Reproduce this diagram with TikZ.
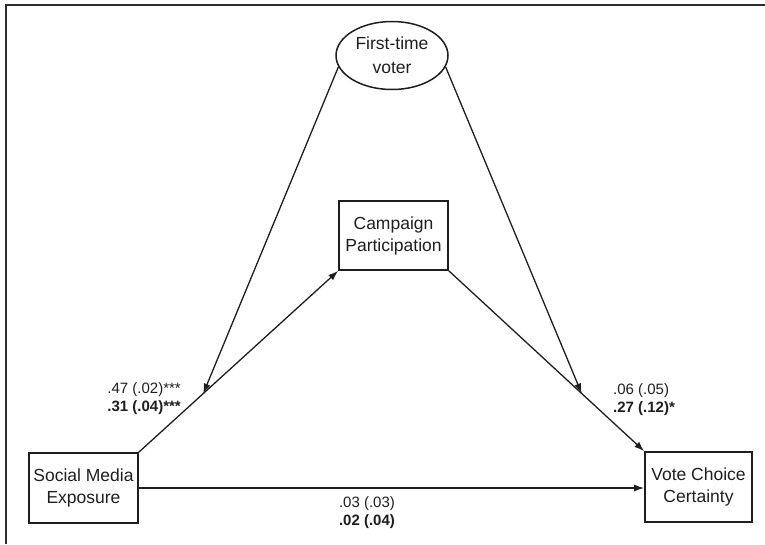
\documentclass[tikz,border=0pt]{standalone}
\usepackage{fontspec}
\setmainfont{Liberation Sans}
\usetikzlibrary{arrows.meta,calc,shapes.geometric}
\definecolor{ink}{RGB}{30,30,30}
\definecolor{framec}{RGB}{45,45,45}
\tikzset{
  boxnode/.style={draw=ink, line width=1.7pt, rectangle, minimum width=#1, minimum height=69pt,
    inner sep=0pt, align=center, font=\fontsize{17.5}{22}\selectfont, text=ink},
  ovalnode/.style={draw=ink, line width=1.5pt, ellipse, minimum width=112pt, minimum height=68pt,
    inner sep=0pt, align=center, font=\fontsize{17.5}{24}\selectfont, text=ink},
  conn/.style={draw=ink, line width=1.3pt},
  arr/.style={conn, -{Latex[length=10pt,width=7pt]}},
  lbl/.style={font=\fontsize{15}{18}\selectfont, text=ink, inner sep=0pt}
}
\begin{document}
\begin{tikzpicture}[x=1pt,y=1pt]
\useasboundingbox (0,0) rectangle (765,-544);
\draw[framec, line width=2.4pt] (6,-544) -- (6,-5) -- (765,-5);

\node[ovalnode] (FT) at (392,-55.5) {First-time\\voter};
\node[boxnode=109pt] (CP) at (393.5,-235.5) {Campaign\\Participation};
\node[boxnode=109pt, minimum height=70pt] (SME) at (83.5,-488) {Social Media\\Exposure};
\node[boxnode=107pt, minimum height=70pt] (VC) at (698.5,-487) {Vote Choice\\Certainty};

\coordinate (m1) at ($(SME.north east)!0.323!(CP.south west)$);
\coordinate (m2) at ($(CP.south east)!0.68!(VC.north west)$);

\draw[arr] (SME.north east) -- (CP.south west);
\draw[arr] (CP.south east) -- (VC.north west);
\draw[arr] (SME.east) -- (SME.east -| VC.west);
\draw[arr] (FT.192) -- (m1);
\draw[arr] (FT.-12) -- (m2);

\node[lbl, anchor=east, align=right] (la) at (181,-399) {.47 (.02)***\\\textbf{.31 (.04)***}};
\node[lbl, anchor=west, align=left] (lb) at (613,-400) {.06 (.05)\\\textbf{.27 (.12)*}};
\node[lbl, anchor=center, align=center] (lc) at (367,-513) {.03 (.03)\\\textbf{.02 (.04)}};
\end{tikzpicture}
\end{document}
